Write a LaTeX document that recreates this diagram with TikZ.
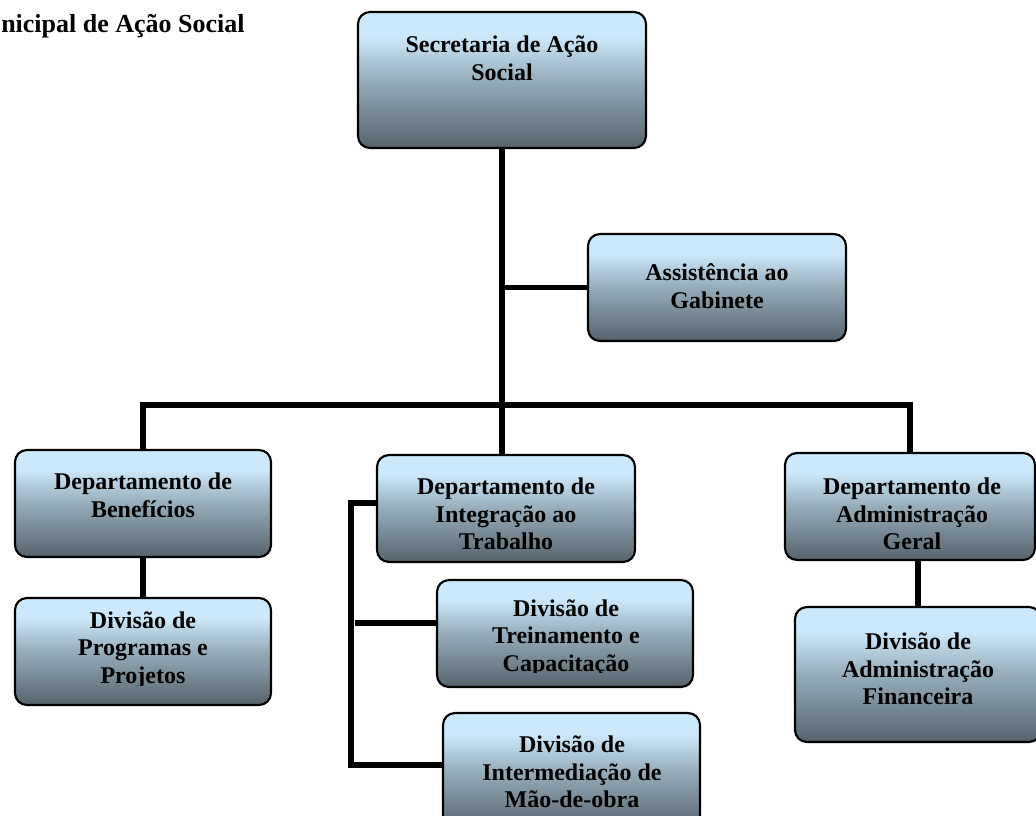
\documentclass[tikz,border=0pt]{standalone}
\usepackage{fontspec}
\setmainfont{Liberation Serif}
\definecolor{ctop}{RGB}{204,233,251}
\definecolor{cmid}{RGB}{150,172,186}
\definecolor{cbot}{RGB}{86,99,108}
\pgfdeclareverticalshading{boxshade}{100bp}{color(0bp)=(cbot); color(25bp)=(cbot); color(50bp)=(cmid); color(66bp)=(ctop); color(100bp)=(ctop)}
\tikzset{
  orgbox/.style={draw=black, line width=1.6pt, rounded corners=9pt, shading=boxshade, inner sep=0pt},
  orgtext/.style={font=\fontsize{18}{20.7}\selectfont\bfseries, align=center, inner sep=0pt},
  link/.style={line width=4pt, line join=miter, line cap=butt}
}
\begin{document}
\begin{tikzpicture}[x=0.75pt,y=-0.75pt]
\clip (0,0) rectangle (1036,815);
\useasboundingbox (0,0) rectangle (1036,815);

% title
\node[font=\fontsize{19.5}{22}\selectfont\bfseries, inner sep=0pt, anchor=base west] (title) at (1,32) {nicipal de Ação Social};

% box positions
\coordinate (secC) at (502,80);
\coordinate (gabC) at (717,287.5);
\coordinate (benC) at (143,503.5);
\coordinate (intC) at (506,508.5);
\coordinate (admC) at (910,506.5);
\coordinate (proC) at (143,651.5);
\coordinate (treC) at (565,633.5);
\coordinate (menC) at (571.5,771.5);
\coordinate (finC) at (918,674.5);

% invisible placeholders for connector computations
\path (secC) node[minimum width=216pt, minimum height=102pt, inner sep=0pt] (sec0) {};
\path (gabC) node[minimum width=193.5pt, minimum height=80.25pt, inner sep=0pt] (gab0) {};
\path (benC) node[minimum width=192pt, minimum height=80.25pt, inner sep=0pt] (ben0) {};
\path (intC) node[minimum width=193.5pt, minimum height=80.25pt, inner sep=0pt] (int0) {};
\path (admC) node[minimum width=187.5pt, minimum height=80.25pt, inner sep=0pt] (adm0) {};
\path (proC) node[minimum width=192pt, minimum height=80.25pt, inner sep=0pt] (pro0) {};
\path (treC) node[minimum width=192pt, minimum height=80.25pt, inner sep=0pt] (tre0) {};
\path (menC) node[minimum width=192.75pt, minimum height=87.75pt, inner sep=0pt] (men0) {};
\path (finC) node[minimum width=184.5pt, minimum height=101.25pt, inner sep=0pt] (fin0) {};

% connectors
\coordinate (bus) at (502,405);
\draw[link] (sec0.south) -- (sec0.south |- int0.north);
\draw[link] (sec0.south |- gab0.west) -- (gab0.west);
\draw[link] (ben0.north) |- (bus) -| (adm0.north);
\draw[link] (ben0.south) -- (pro0.north);
\draw[link] (fin0.north) -- (fin0.north |- adm0.south);
\coordinate (bt) at (351,503);
\coordinate (bb) at (351,765);
\coordinate (bm) at (355,623);
\draw[link] (int0.west |- bt) -- (bt) -- (bb) -- (men0.west |- bb);
\draw[link] (bm) -- (tre0.west |- bm);

% boxes
\node[orgbox, minimum width=216pt, minimum height=102pt] (sec) at (secC) {};
\node[orgbox, minimum width=193.5pt, minimum height=80.25pt] (gab) at (gabC) {};
\node[orgbox, minimum width=192pt, minimum height=80.25pt] (ben) at (benC) {};
\node[orgbox, minimum width=193.5pt, minimum height=80.25pt] (int) at (intC) {};
\node[orgbox, minimum width=187.5pt, minimum height=80.25pt] (adm) at (admC) {};
\node[orgbox, minimum width=192pt, minimum height=80.25pt] (pro) at (proC) {};
\node[orgbox, minimum width=192pt, minimum height=80.25pt] (tre) at (treC) {};
\node[orgbox, minimum width=192.75pt, minimum height=87.75pt] (men) at (menC) {};
\node[orgbox, minimum width=184.5pt, minimum height=101.25pt] (fin) at (finC) {};

% texts
\node[orgtext] (secT) at (502,58) {Secretaria de Ação\\Social};
\node[orgtext] (gabT) at (717,286) {Assistência ao\\Gabinete};
\node[orgtext] (benT) at (143,495) {Departamento de\\Benefícios};
\node[orgtext] (intT) at (506,514) {Departamento de\\Integração ao\\Trabalho};
\node[orgtext] (admT) at (912,514) {Departamento de\\Administração\\Geral};
\begin{scope}
\clip (15,598) rectangle (271,685);
\node[orgtext] (proT) at (143,650) {Divisão de\\Programas e\\Projetos};
\end{scope}
\begin{scope}
\clip (437,580) rectangle (693,672);
\node[orgtext] (treT) at (566,638) {Divisão de\\Treinamento e\\Capacitação};
\end{scope}
\node[orgtext] (menT) at (572,772) {Divisão de\\Intermediação de\\Mão-de-obra};
\node[orgtext] (finT) at (918,669) {Divisão de\\Administração\\Financeira};
\end{tikzpicture}
\end{document}
